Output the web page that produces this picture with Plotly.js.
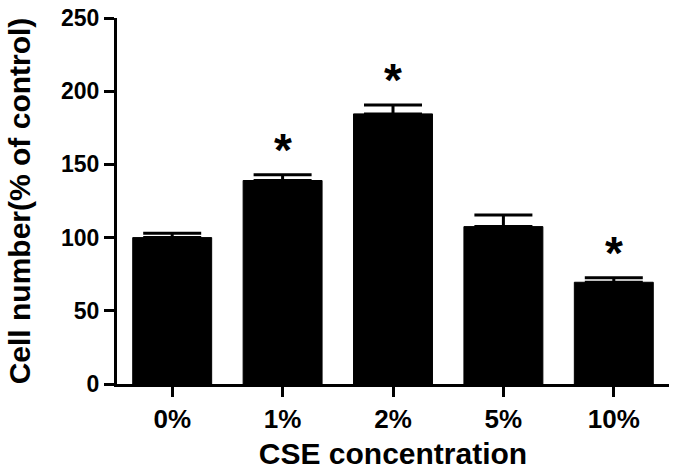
<!DOCTYPE html>
<html>
<head>
<meta charset="utf-8">
<script src="https://cdn.plot.ly/plotly-3.0.1.min.js"></script>
<style>html,body{margin:0;padding:0;background:#fff;}#chart{width:677px;height:472px;}</style>
</head>
<body>
<div id="chart"></div>
<script>
const categories = ["0%", "1%", "2%", "5%", "10%"];
const cellNumber = [100, 139, 184.5, 107.5, 69.5];
const sem = [3, 4, 6, 8, 3];
const significant = [false, true, true, false, true];
const yTicks = [0, 50, 100, 150, 200, 250];

const FONT = "Liberation Sans, Arial, sans-serif";

const trace = {
  type: "bar",
  x: categories,
  y: cellNumber,
  marker: {color: "#000000", line: {color: "#000000", width: 1}},
  error_y: {type: "data", array: sem, arrayminus: sem.map(() => 0), symmetric: false,
            color: "#000000", thickness: 3, width: 29, visible: true},
  hoverinfo: "skip"
};

const annotations = [];
categories.forEach((c, i) => {
  if (significant[i]) {
    annotations.push({
      x: c, y: cellNumber[i] + sem[i] + 24, xref: "x", yref: "y",
      text: "<b>*</b>", showarrow: false, yanchor: "middle", xanchor: "center",
      font: {family: FONT, size: 46, color: "#000"}, yshift: -10
    });
  }
});

const layout = {
  width: 677, height: 472,
  margin: {l: 117, r: 8, t: 18, b: 88},
  paper_bgcolor: "#fff", plot_bgcolor: "#fff",
  showlegend: false,
  bargap: 0.285,
  font: {family: FONT, color: "#000"},
  xaxis: {
    type: "category", range: [-0.5, 4.5],
    showline: true, linecolor: "#000", linewidth: 3,
    ticks: "outside", ticklen: 10, tickwidth: 3, tickcolor: "#000",
    tickfont: {family: FONT, size: 26, color: "#000", weight: "bold"},
    showgrid: false, zeroline: false,
    title: {text: "<b>CSE concentration</b>", font: {family: FONT, size: 30, color: "#000"}, standoff: 10}
  },
  yaxis: {
    range: [0, 250], tickvals: yTicks, ticktext: yTicks.map(String),
    showline: true, linecolor: "#000", linewidth: 3,
    ticks: "outside", ticklen: 10, tickwidth: 3, tickcolor: "#000",
    tickfont: {family: FONT, size: 23, color: "#000", weight: "bold"},
    showgrid: false, zeroline: false,
    title: {text: "<b>Cell number(% of control)</b>", font: {family: FONT, size: 30, color: "#000"}, standoff: 22}
  },
  annotations: annotations
};

Plotly.newPlot("chart", [trace], layout, {displayModeBar: false, staticPlot: true});
</script>
</body>
</html>
